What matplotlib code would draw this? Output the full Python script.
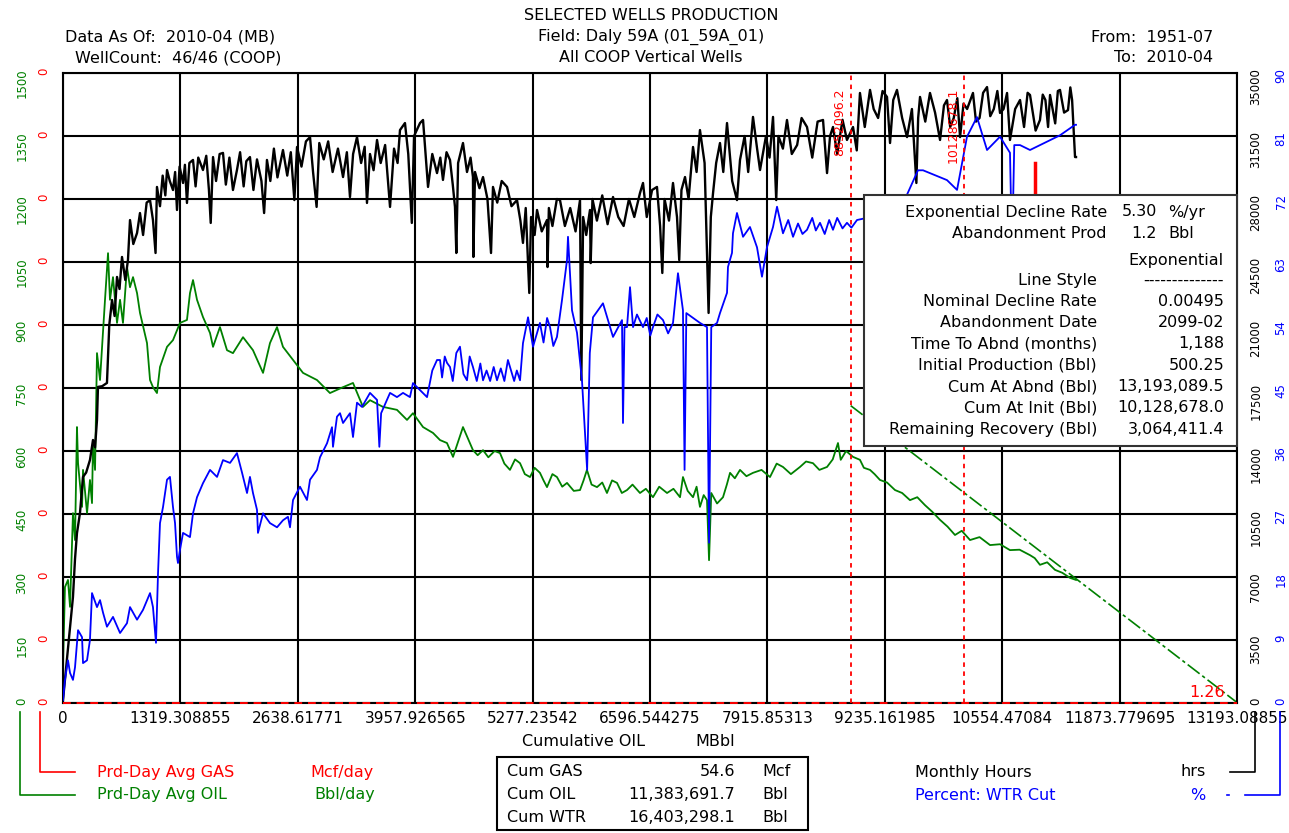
import matplotlib.pyplot as plt
from matplotlib.patches import Rectangle
from matplotlib.lines import Line2D

plt.rcParams['font.family'] = ['DejaVu Sans']

# ---- data (cumulative oil in MBbl on x) ----
x_ticks = [0, 1319.308855, 2638.61771, 3957.926565, 5277.23542, 6596.544275,
           7915.85313, 9235.161985, 10554.47084, 11873.779695, 13193.08855]
x_labels = ["0", "1319.308855", "2638.61771", "3957.926565", "5277.23542", "6596.544275",
            "7915.85313", "9235.161985", "10554.47084", "11873.779695", "13193.08855"]

oil_ticks = [0, 150, 300, 450, 600, 750, 900, 1050, 1200, 1350, 1500]
hours_ticks = [0, 3500, 7000, 10500, 14000, 17500, 21000, 24500, 28000, 31500, 35000]
wc_ticks = [0, 9, 18, 27, 36, 45, 54, 63, 72, 81, 90]
gas_labels = ["0"] * 11

# Monthly hours (black)
hours_cum = [0, 22, 45, 79, 112, 135, 157, 191, 225, 260,
             303, 337, 360, 382, 393, 440, 494, 520, 551, 580,
             607, 635, 663, 700, 730, 753, 790, 832, 865, 900,
             940, 978, 1011, 1040, 1056, 1090, 1120, 1150, 1169, 1200,
             1236, 1260, 1281, 1310, 1349, 1370, 1393, 1420, 1461, 1490,
             1520, 1573, 1610, 1640, 1660, 1686, 1720, 1760, 1798, 1830,
             1870, 1910, 1955, 1990, 2030, 2060, 2101, 2140, 2180, 2230,
             2260, 2292, 2330, 2370, 2410, 2472, 2520, 2560, 2600, 2630,
             2680, 2730, 2776, 2810, 2850, 2880, 2930, 2980, 3030, 3090,
             3147, 3190, 3225, 3260, 3304, 3350, 3390, 3416, 3450, 3490,
             3529, 3570, 3620, 3675, 3720, 3760, 3787, 3843, 3880, 3920,
             3945, 4012, 4046, 4075, 4102, 4150, 4203, 4240, 4270, 4310,
             4349, 4380, 4405, 4420, 4440, 4495, 4540, 4580, 4607, 4612,
             4630, 4680, 4720, 4770, 4810, 4832, 4880, 4930, 4990, 5040,
             5102, 5140, 5169, 5200, 5240, 5260, 5300, 5327, 5380, 5439,
             5445, 5460, 5500, 5550, 5585, 5640, 5700, 5760, 5810, 5825,
             5845, 5880, 5922, 5930, 5950, 6000, 6060, 6120, 6181, 6240,
             6300, 6360, 6420, 6484, 6518, 6560, 6620, 6675, 6710, 6735,
             6760, 6810, 6855, 6900, 6925, 6950, 6990, 7030, 7080, 7120,
             7158, 7210, 7255, 7280, 7305, 7340, 7383, 7420, 7462, 7520,
             7574, 7608, 7660, 7700, 7754, 7800, 7833, 7900, 7940, 7979,
             8015, 8040, 8090, 8136, 8190, 8250, 8300, 8361, 8420, 8480,
             8541, 8586, 8620, 8653, 8700, 8760, 8810, 8878, 8920, 8956,
             9010, 9069, 9110, 9160, 9210, 9260, 9294, 9330, 9372, 9430,
             9485, 9540, 9590, 9610, 9631, 9690, 9743, 9800, 9856, 9900,
             9934, 9970, 10010, 10050, 10081, 10120, 10160, 10226, 10260, 10300,
             10340, 10384, 10420, 10460, 10500, 10530, 10570, 10609, 10642, 10700,
             10755, 10800, 10840, 10867, 10930, 10979, 11010, 11040, 11070, 11092,
             11150, 11180, 11204, 11250, 11294, 11320, 11340, 11373, 11384]
hours = [167, 1280, 2390, 4220, 5890, 8000, 9440, 10560, 12560, 12800,
         13500, 14610, 14200, 15720, 17560, 17600, 17780, 21000, 22390, 21500,
         23670, 23000, 24780, 23500, 24610, 26830, 25500, 26110, 27220, 26000,
         27800, 27940, 26830, 25000, 28670, 27600, 29300, 28200, 29610, 29000,
         28500, 29500, 27390, 29800, 28890, 29900, 27780, 30000, 30170, 28700,
         30300, 29610, 30400, 28500, 26670, 30330, 29000, 30500, 30560, 28800,
         30300, 28500, 29610, 30600, 28700, 30100, 30330, 28500, 30200, 29000,
         27220, 30170, 29000, 30800, 29200, 30720, 29300, 30600, 27940, 30890,
         29800, 31200, 31440, 29500, 27560, 31110, 30200, 31200, 29500, 30800,
         29220, 30600, 28110, 30500, 31440, 30000, 30900, 27780, 30500, 29600,
         31280, 30000, 31000, 27560, 30800, 30000, 31830, 32220, 30500, 26670,
         31500, 32220, 32390, 30500, 28670, 30500, 29440, 30300, 29060, 30600,
         30170, 28800, 27560, 25000, 30000, 31110, 29500, 30300, 29220, 24780,
         29500, 28600, 29220, 28000, 25000, 28670, 27800, 29000, 28670, 27600,
         27940, 26800, 25560, 27500, 22780, 27000, 26000, 27390, 26200, 26830,
         24220, 27500, 26500, 28000, 27940, 26500, 27500, 26200, 27940, 17940,
         27000, 26000, 27390, 24440, 28000, 26800, 28200, 26600, 28110, 27000,
         26500, 28000, 27000, 28330, 28890, 27000, 28500, 28670, 26500, 23890,
         28000, 26800, 28890, 27000, 24610, 28500, 29220, 28000, 30890, 29500,
         31830, 30000, 21670, 27000, 28330, 30000, 31110, 29500, 32220, 29000,
         27940, 30170, 31500, 29500, 32560, 30800, 29610, 31500, 30300, 32560,
         27940, 31500, 30800, 32390, 30500, 31000, 32500, 32000, 30300, 32300,
         32390, 29440, 31500, 32000, 30500, 32400, 31280, 32000, 30700, 33890,
         32000, 34060, 33000, 32500, 34000, 33670, 31110, 33500, 34060, 32500,
         31440, 33000, 28890, 32500, 33670, 32300, 33890, 32800, 31280, 33200,
         33500, 32000, 32500, 33600, 31440, 33300, 33000, 33890, 32300, 32500,
         33900, 34220, 32600, 33000, 34000, 32780, 33000, 33890, 31280, 33000,
         33500, 32000, 33900, 33780, 31800, 32390, 33800, 33500, 32000, 33780,
         32200, 34000, 34060, 32800, 32940, 34200, 33500, 30330, 30330]

# Percent water cut (blue)
wc_cum = [0, 22, 56, 79, 112, 135, 169, 214, 225, 270,
          303, 326, 382, 416, 450, 494, 562, 641, 719, 753,
          832, 899, 978, 1011, 1045, 1068, 1090, 1124, 1169, 1202,
          1236, 1259, 1281, 1292, 1315, 1349, 1427, 1461, 1506, 1573,
          1652, 1731, 1798, 1877, 1955, 2012, 2068, 2101, 2135, 2180,
          2191, 2248, 2326, 2405, 2472, 2528, 2551, 2585, 2663, 2742,
          2776, 2854, 2888, 2967, 3023, 3034, 3079, 3113, 3147, 3225,
          3259, 3304, 3360, 3450, 3529, 3555, 3575, 3675, 3753, 3821,
          3899, 3933, 4012, 4091, 4150, 4203, 4237, 4260, 4290, 4315,
          4349, 4380, 4420, 4461, 4500, 4540, 4570, 4607, 4650, 4690,
          4720, 4760, 4800, 4840, 4877, 4920, 4960, 5000, 5023, 5070,
          5100, 5136, 5169, 5226, 5282, 5360, 5400, 5440, 5473, 5510,
          5551, 5608, 5664, 5675, 5720, 5776, 5832, 5890, 5920, 5956,
          6068, 6181, 6282, 6293, 6310, 6338, 6372, 6406, 6450, 6518,
          6560, 6600, 6630, 6680, 6743, 6800, 6855, 6911, 6967, 6985,
          7005, 7158, 7237, 7260, 7285, 7350, 7383, 7462, 7473, 7518,
          7529, 7574, 7642, 7720, 7799, 7855, 7911, 7979, 8024, 8091,
          8150, 8204, 8260, 8310, 8361, 8420, 8460, 8507, 8560, 8610,
          8653, 8700, 8760, 8810, 8860, 8923, 9181, 9406, 9608, 9665,
          9800, 9934, 10047, 10159, 10271, 10384, 10530, 10642, 10665, 10690,
          10755, 10867, 11092, 11204, 11373, 11384]
wc = [0.4, 3.3, 6.1, 4.3, 3.3, 5.1, 10.4, 9.4, 5.7, 6.1,
      9.0, 15.7, 13.7, 14.7, 12.9, 10.9, 12.3, 10.0, 11.4, 13.7,
      11.9, 13.3, 15.7, 13.7, 8.6, 18.6, 25.7, 28.0, 31.9, 32.3,
      28.0, 25.7, 20.9, 20.0, 21.9, 24.3, 23.7, 27.1, 29.4, 31.4,
      33.3, 32.3, 34.7, 34.3, 35.7, 32.9, 30.0, 32.3, 30.0, 27.6,
      24.3, 27.1, 25.7, 25.1, 26.1, 26.6, 25.1, 29.0, 30.9, 29.0,
      31.9, 33.3, 35.1, 37.1, 39.4, 36.6, 40.9, 41.4, 40.0, 41.4,
      38.0, 42.9, 42.3, 44.3, 43.3, 36.6, 41.4, 44.3, 43.7, 44.3,
      43.7, 45.7, 44.7, 43.7, 47.5, 49.0, 49.0, 46.5, 49.5, 48.6,
      48.0, 46.0, 50.0, 50.9, 47.0, 46.1, 49.5, 48.0, 46.0, 48.5,
      46.1, 47.5, 46.0, 48.0, 46.1, 47.8, 46.0, 49.0, 48.0, 46.0,
      47.5, 46.1, 51.4, 55.1, 50.9, 54.3, 51.5, 55.0, 53.7, 51.0,
      52.3, 57.6, 63.3, 66.6, 56.1, 52.9, 46.1, 33.3, 50.0, 55.1,
      57.1, 52.3, 54.7, 40.0, 53.7, 53.7, 59.4, 53.7, 55.5, 53.7,
      55.0, 52.5, 53.7, 55.5, 54.7, 52.8, 54.3, 61.4, 56.1, 33.3,
      55.7, 54.3, 53.7, 22.9, 53.7, 54.3, 55.7, 58.6, 62.3, 64.3,
      67.1, 70.0, 66.6, 68.0, 65.1, 60.9, 65.1, 68.0, 70.9, 67.1,
      69.0, 66.6, 68.5, 67.0, 67.6, 69.3, 67.5, 68.6, 67.0, 69.0,
      67.6, 69.3, 67.8, 68.6, 67.9, 69.0, 69.7, 70.4, 76.1, 76.1,
      75.4, 74.7, 73.3, 80.9, 83.7, 79.0, 80.9, 78.6, 64.0, 79.7,
      79.7, 79.0, 80.4, 81.1, 82.6, 82.6]

# Prd-day avg oil (green)
oil_cum = [0, 2, 22, 56, 79, 112, 135, 157, 169, 214,
           225, 270, 303, 326, 337, 360, 382, 416, 472, 506,
           528, 562, 607, 641, 674, 719, 753, 787, 832, 865,
           944, 978, 1011, 1056, 1090, 1169, 1236, 1315, 1393, 1427,
           1461, 1506, 1573, 1652, 1686, 1764, 1843, 1910, 2023, 2135,
           2248, 2326, 2405, 2472, 2585, 2697, 2854, 3000, 3147, 3259,
           3371, 3450, 3596, 3753, 3866, 3933, 4046, 4158, 4237, 4315,
           4383, 4495, 4607, 4660, 4720, 4780, 4850, 4911, 4960, 5023,
           5080, 5136, 5190, 5248, 5300, 5360, 5400, 5439, 5500, 5551,
           5610, 5664, 5740, 5810, 5850, 5888, 5940, 6001, 6060, 6113,
           6170, 6226, 6280, 6338, 6400, 6484, 6550, 6630, 6700, 6788,
           6860, 6934, 6967, 7020, 7080, 7120, 7158, 7200, 7237, 7260,
           7285, 7350, 7417, 7460, 7496, 7550, 7608, 7680, 7754, 7850,
           7945, 8020, 8091, 8180, 8282, 8350, 8428, 8500, 8586, 8650,
           8709, 8740, 8800, 8878, 8956, 9000, 9069, 9120, 9181, 9260,
           9350, 9430, 9518, 9600, 9687, 9770, 9856, 9940, 10024, 10100,
           10193, 10300, 10418, 10530, 10642, 10750, 10867, 10920, 10979, 11060,
           11148, 11230, 11316, 11384]
oil = [7, 102, 276, 293, 229, 452, 388, 657, 571, 467,
       555, 452, 531, 476, 619, 555, 833, 769, 960, 1071,
       960, 1014, 905, 960, 905, 1038, 990, 1014, 976, 929,
       857, 769, 752, 738, 800, 848, 864, 905, 912, 976,
       1007, 960, 919, 881, 848, 895, 840, 833, 871, 840,
       786, 857, 895, 848, 817, 786, 769, 738, 752, 762,
       705, 721, 705, 698, 674, 690, 657, 643, 626, 619,
       586, 657, 602, 590, 602, 585, 600, 595, 570, 555,
       580, 571, 545, 538, 560, 548, 530, 514, 545, 538,
       515, 524, 505, 507, 530, 555, 520, 514, 525, 500,
       530, 524, 500, 507, 520, 500, 510, 490, 515, 500,
       510, 490, 538, 505, 490, 515, 467, 495, 483, 340,
       500, 475, 490, 520, 548, 535, 555, 540, 548, 555,
       538, 570, 562, 545, 562, 575, 571, 555, 562, 580,
       619, 579, 600, 586, 579, 560, 555, 545, 531, 525,
       507, 500, 483, 490, 471, 455, 436, 420, 400, 410,
       388, 395, 376, 378, 364, 365, 352, 345, 329, 335,
       317, 310, 298, 293]

# exponential forecast (from the table: 500.25 at cum 10128.678 down to 1.2 at 13193.09)
forecast_cum = [8852.0962, 10128.678, 13193.08855]
forecast_oil = [708, 500.25, 1.2]

gas_cum = [0, 13193.08855]
gas_rate = [0, 0]
gas_spike_cum = [10923, 10923]
gas_spike = [0.806, 0.857]

marker_cum = [8852.0962, 10128.6781]
marker_labels = ["8852096.2", "10128678.1"]

table_rows = [("Line Style", "--------------"),
              ("Nominal Decline Rate", "0.00495"),
              ("Abandonment Date", "2099-02"),
              ("Time To Abnd (months)", "1,188"),
              ("Initial Production (Bbl)", "500.25"),
              ("Cum At Abnd (Bbl)", "13,193,089.5"),
              ("Cum At Init (Bbl)", "10,128,678.0"),
              ("Remaining Recovery (Bbl)", "3,064,411.4")]
cum_rows = [("Cum GAS", "54.6", "Mcf"),
            ("Cum OIL", "11,383,691.7", "Bbl"),
            ("Cum WTR", "16,403,298.1", "Bbl")]

GREEN = "#008000"
BLUE = "#0000ff"
RED = "#ff0000"
FS = 11.5

W, H = 1289, 833
fig = plt.figure(figsize=(W / 100, H / 100), dpi=100)


def fx(p):
    return p / W


def fy(p):
    return 1 - p / H


ax = fig.add_axes([fx(63), fy(703), 1174 / W, 630 / H])
ax_g = ax.twinx()
ax_h = ax.twinx()
ax_w = ax.twinx()

# oil (left, green)
ax.plot(oil_cum, oil, color=GREEN, lw=1.3)
ax.plot(forecast_cum, forecast_oil, color=GREEN, lw=1.2, ls=(0, (9, 2, 2, 2)))
ax.text(12857, 26, "1.26", color=RED, ha="center", va="center", fontsize=FS)
ax.set_xlim(0, 13193.08855)
ax.set_ylim(0, 1500)
ax.set_xticks(x_ticks)
ax.set_xticklabels(x_labels)
ax.set_yticks(oil_ticks)
ax.set_yticklabels([str(v) for v in oil_ticks])
ax.tick_params(axis="x", length=0, pad=6, labelsize=11)
ax.tick_params(axis="y", length=0, pad=25, labelcolor=GREEN, labelrotation=90, labelsize=8.5)
ax.grid(True, color="black", lw=1.5)
ax.set_axisbelow(True)
for s in ax.spines.values():
    s.set_linewidth(1.5)

# gas (left, red) - flat zero line
ax_g.set_ylim(0, 1)
ax_g.yaxis.set_ticks_position("left")
ax_g.set_yticks([i / 10 for i in range(11)])
ax_g.set_yticklabels(gas_labels)
ax_g.tick_params(axis="y", length=0, pad=9, labelcolor=RED, labelrotation=90, labelsize=8.5)
ax_g.plot(gas_cum, gas_rate, color=RED, lw=1.4, ls=(0, (4, 3)), clip_on=False)
ax_g.plot(gas_spike_cum, gas_spike, color=RED, lw=2.5)

# monthly hours (right, black)
ax_h.plot(hours_cum, hours, color="black", lw=1.7)
ax_h.set_ylim(0, 35000)
ax_h.set_yticks(hours_ticks)
ax_h.set_yticklabels([str(v) for v in hours_ticks])
ax_h.tick_params(axis="y", length=0, pad=9, labelcolor="black", labelrotation=90, labelsize=8.5)

# water cut (right, blue)
ax_w.plot(wc_cum, wc, color=BLUE, lw=1.3)
ax_w.set_ylim(0, 90)
ax_w.set_yticks(wc_ticks)
ax_w.set_yticklabels([str(v) for v in wc_ticks])
ax_w.tick_params(axis="y", length=0, pad=27, labelcolor=BLUE, labelrotation=90, labelsize=8.5)

for xv, lab in zip(marker_cum, marker_labels):
    ax_w.axvline(xv, color=RED, lw=1.3, ls=(0, (2.5, 2.5)))
    ax_w.annotate(lab, xy=(xv, 0.976), xycoords=("data", "axes fraction"),
                  xytext=(-3, 0), textcoords="offset points", rotation=90,
                  ha="right", va="top", color=RED, fontsize=9)

for a in (ax_g, ax_h, ax_w):
    for s in a.spines.values():
        s.set_visible(False)

# header
fig.text(fx(651), fy(16), "SELECTED WELLS PRODUCTION", ha="center", va="center", fontsize=FS)
fig.text(fx(651), fy(37), "Field: Daly 59A (01_59A_01)", ha="center", va="center", fontsize=FS)
fig.text(fx(651), fy(58), "All COOP Vertical Wells", ha="center", va="center", fontsize=FS)
fig.text(fx(65), fy(37), "Data As Of:  2010-04 (MB)", ha="left", va="center", fontsize=FS)
fig.text(fx(75), fy(58), "WellCount:  46/46 (COOP)", ha="left", va="center", fontsize=FS)
fig.text(fx(1213), fy(37), "From:  1951-07", ha="right", va="center", fontsize=FS)
fig.text(fx(1213), fy(58), "To:  2010-04", ha="right", va="center", fontsize=FS)

# x axis title
fig.text(fx(584), fy(741), "Cumulative OIL", ha="center", va="center", fontsize=FS)
fig.text(fx(715), fy(741), "MBbl", ha="center", va="center", fontsize=FS)

# decline table
fig.add_artist(Rectangle((fx(864), fy(446)), 373 / W, 251 / H, transform=fig.transFigure,
                         facecolor="white", edgecolor="#333333", lw=1.5, zorder=5))
fig.text(fx(1107), fy(212), "Exponential Decline Rate", ha="right", va="center", fontsize=FS, zorder=6)
fig.text(fx(1157), fy(212), "5.30", ha="right", va="center", fontsize=FS, zorder=6)
fig.text(fx(1168), fy(212), "%/yr", ha="left", va="center", fontsize=FS, zorder=6)
fig.text(fx(1107), fy(233), "Abandonment Prod", ha="right", va="center", fontsize=FS, zorder=6)
fig.text(fx(1157), fy(233), "1.2", ha="right", va="center", fontsize=FS, zorder=6)
fig.text(fx(1168), fy(233), "Bbl", ha="left", va="center", fontsize=FS, zorder=6)
fig.text(fx(1224), fy(260), "Exponential", ha="right", va="center", fontsize=FS, zorder=6)
for i, (lab, val) in enumerate(table_rows):
    y = 280 + i * 21.3
    fig.text(fx(1097), fy(y), lab, ha="right", va="center", fontsize=FS, zorder=6)
    fig.text(fx(1224), fy(y), val, ha="right", va="center", fontsize=FS, zorder=6)

# bottom legend - left
fig.add_artist(Line2D([fx(40), fx(40), fx(75)], [fy(712), fy(772), fy(772)],
                      transform=fig.transFigure, color=RED, lw=1.2))
fig.add_artist(Line2D([fx(20), fx(20), fx(75)], [fy(712), fy(795), fy(795)],
                      transform=fig.transFigure, color=GREEN, lw=1.2))
fig.text(fx(97), fy(772), "Prd-Day Avg GAS", color=RED, va="center", fontsize=FS)
fig.text(fx(310), fy(772), "Mcf/day", color=RED, va="center", fontsize=FS)
fig.text(fx(97), fy(795), "Prd-Day Avg OIL", color=GREEN, va="center", fontsize=FS)
fig.text(fx(314), fy(795), "Bbl/day", color=GREEN, va="center", fontsize=FS)

# bottom legend - right
fig.add_artist(Line2D([fx(1230), fx(1255), fx(1255)], [fy(772), fy(772), fy(712)],
                      transform=fig.transFigure, color="black", lw=1.2))
fig.add_artist(Line2D([fx(1245), fx(1280), fx(1280)], [fy(795), fy(795), fy(712)],
                      transform=fig.transFigure, color=BLUE, lw=1.2))
fig.add_artist(Line2D([fx(1227), fx(1229)], [fy(795), fy(795)],
                      transform=fig.transFigure, color=BLUE, lw=1.2))
fig.text(fx(915), fy(772), "Monthly Hours", color="black", va="center", fontsize=FS)
fig.text(fx(1180), fy(772), "hrs", color="black", va="center", fontsize=FS)
fig.text(fx(915), fy(795), "Percent: WTR Cut", color=BLUE, va="center", fontsize=FS)
fig.text(fx(1190), fy(795), "%", color=BLUE, va="center", fontsize=FS)

# cumulative box
fig.add_artist(Rectangle((fx(497), fy(830)), 311 / W, 73 / H, transform=fig.transFigure,
                         facecolor="none", edgecolor="black", lw=1.5))
for i, (lab, val, unit) in enumerate(cum_rows):
    y = 772 + i * 22.5
    fig.text(fx(507), fy(y), lab, va="center", fontsize=FS)
    fig.text(fx(735), fy(y), val, ha="right", va="center", fontsize=FS)
    fig.text(fx(762), fy(y), unit, va="center", fontsize=FS)

fig.savefig("out.png", dpi=100)
